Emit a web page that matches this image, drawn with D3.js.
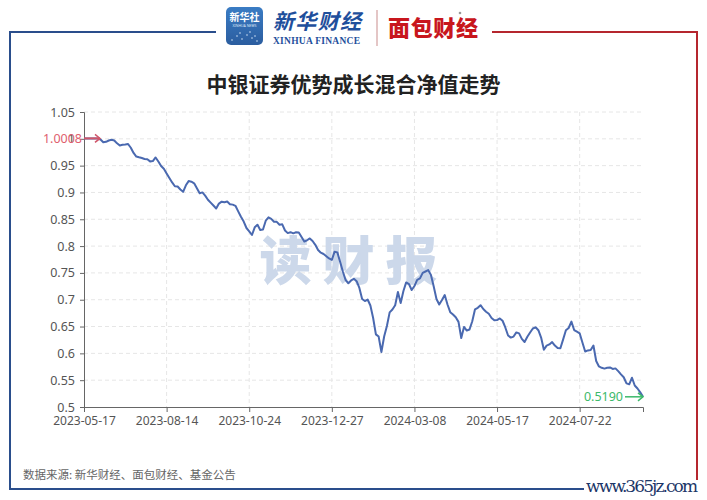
<!DOCTYPE html>
<html><head><meta charset="utf-8">
<script src="https://cdn.jsdelivr.net/npm/d3@7"></script>
<style>
html,body{margin:0;padding:0;background:#fff;}
svg{display:block;}
</style></head>
<body>
<svg id="chart" width="707" height="500"></svg>
<script>
const chartTitle = "中银证券优势成长混合净值走势";
const sourceText = "数据来源: 新华财经、面包财经、基金公告";
const xTickLabels = ["2023-05-17","2023-08-14","2023-10-24","2023-12-27","2024-03-08","2024-05-17","2024-07-22"];
const xTickIndex = [0,30,60,90,120,150,180];
const yTicks = [0.5,0.55,0.6,0.65,0.7,0.75,0.8,0.85,0.9,0.95,1.0,1.05];
const startLabel = "1.0008";
const endLabel = "0.5190";
const navValues = [
1.0008,1.0008,1.0008,1.0008,1.0008,1.0004,0.9987,0.9935,0.9944,0.9969,
0.9984,0.9969,0.9916,0.9875,0.9888,0.9894,0.9903,0.9833,0.9736,0.9670,
0.9655,0.9642,0.9624,0.9618,0.9579,0.9586,0.9652,0.9577,0.9493,0.9441,
0.9353,0.9269,0.9187,0.9115,0.9111,0.9055,0.9012,0.9133,0.9212,0.9201,
0.9171,0.9079,0.8986,0.9001,0.8941,0.8865,0.8811,0.8757,0.8701,0.8792,
0.8828,0.8818,0.8831,0.8781,0.8773,0.8751,0.8647,0.8548,0.8457,0.8337,
0.8276,0.8207,0.8350,0.8397,0.8300,0.8309,0.8473,0.8536,0.8508,0.8454,
0.8452,0.8399,0.8406,0.8291,0.8242,0.8259,0.8238,0.8257,0.8253,0.8169,
0.8086,0.8108,0.8143,0.8095,0.8024,0.7927,0.7877,0.7853,0.7812,0.7769,
0.7743,0.7896,0.7883,0.7708,0.7527,0.7368,0.7307,0.7359,0.7390,0.7345,
0.7219,0.7013,0.6976,0.7004,0.6892,0.6659,0.6354,0.6313,0.6026,0.6315,
0.6510,0.6764,0.6818,0.6898,0.7144,0.6939,0.7163,0.7323,0.7293,0.7181,
0.7256,0.7371,0.7398,0.7500,0.7526,0.7552,0.7461,0.7247,0.7014,0.6911,
0.6995,0.7088,0.6911,0.6768,0.6725,0.6673,0.6587,0.6287,0.6492,0.6426,
0.6445,0.6599,0.6822,0.6850,0.6898,0.6827,0.6777,0.6738,0.6660,0.6617,
0.6621,0.6651,0.6608,0.6483,0.6333,0.6294,0.6313,0.6391,0.6373,0.6270,
0.6212,0.6311,0.6389,0.6464,0.6486,0.6432,0.6294,0.6067,0.6145,0.6167,
0.6210,0.6145,0.6100,0.6094,0.6260,0.6430,0.6473,0.6592,0.6435,0.6404,
0.6374,0.6201,0.6035,0.6055,0.6063,0.6147,0.5858,0.5756,0.5731,0.5716,
0.5731,0.5737,0.5709,0.5720,0.5668,0.5608,0.5554,0.5440,0.5423,0.5546,
0.5401,0.5345,0.5274,0.5190
];

const svg = d3.select("#chart");
const cjk = "'Noto Sans CJK SC','Noto Sans',sans-serif";
const num = "'Noto Sans','Open Sans',sans-serif";

const plot = {left:84, right:643, top:112, bottom:407};
const x = d3.scaleLinear().domain([0, navValues.length-1]).range([plot.left, plot.right]);
const y = d3.scaleLinear().domain([0.5, 1.05]).range([plot.bottom, plot.top]);

// ---------- frame ----------
const blue = "#2a4e8c", red = "#b5262e";
svg.append("path").attr("d","M216,32 H10 V489 H584").attr("fill","none").attr("stroke",blue).attr("stroke-width",2);
svg.append("path").attr("d","M492,32 H697 V480").attr("fill","none").attr("stroke",red).attr("stroke-width",2);
svg.append("text").attr("x",586).attr("y",492).attr("font-family","'DejaVu Serif','Liberation Serif',serif")
  .attr("font-size",17).attr("fill","#1c3668").attr("textLength",112).text("www.365jz.com");

// ---------- logos ----------
const defs = svg.append("defs");
const lg = defs.append("linearGradient").attr("id","lg").attr("x1",0).attr("y1",0).attr("x2",0).attr("y2",1);
lg.append("stop").attr("offset","0%").attr("stop-color","#3a7cc4");
lg.append("stop").attr("offset","100%").attr("stop-color","#2b5d9f");
svg.append("rect").attr("x",226).attr("y",7).attr("width",37).attr("height",38).attr("rx",5).attr("fill","url(#lg)");
svg.append("text").attr("x",244.5).attr("y",21).attr("text-anchor","middle").attr("font-family",cjk)
  .attr("font-size",10).attr("font-weight","bold").attr("fill","#fff").text("新华社");
svg.append("text").attr("x",244.5).attr("y",27).attr("text-anchor","middle").attr("font-family",num)
  .attr("font-size",3.5).attr("fill","#dfe9f7").text("XINHUA NEWS");
[[232,40],[237,36],[242,39],[247,35],[252,38],[257,41],[240,33],[250,32],[255,36]].forEach(p=>{
  svg.append("circle").attr("cx",p[0]).attr("cy",p[1]).attr("r",0.8).attr("fill","#cfe2f6");
});
svg.append("text").attr("x",273).attr("y",29).attr("font-family",cjk).attr("font-size",21)
  .attr("font-weight","bold").attr("font-style","italic").attr("fill","#1f4f9c").attr("textLength",88).text("新华财经");
svg.append("text").attr("x",273).attr("y",44).attr("font-family","'Liberation Serif',serif").attr("font-size",9.5)
  .attr("font-weight","bold").attr("fill","#1f4f9c").attr("textLength",87).text("XINHUA FINANCE");
svg.append("line").attr("x1",377).attr("x2",377).attr("y1",10).attr("y2",46).attr("stroke","#c98d8d").attr("stroke-width",1);
svg.append("text").attr("x",388).attr("y",36).attr("font-family",cjk).attr("font-size",22)
  .attr("font-weight","900").attr("fill","#c8161d").attr("textLength",90).text("面包财经");
svg.append("circle").attr("cx",460).attr("cy",13).attr("r",1.3).attr("fill","#999");

// ---------- title ----------
svg.append("text").attr("x",353.5).attr("y",92).attr("text-anchor","middle").attr("font-family",cjk)
  .attr("font-size",21).attr("font-weight","bold").attr("fill","#222").text(chartTitle);

// ---------- grid ----------
svg.append("g").selectAll("line").data(yTicks.slice(1)).join("line")
  .attr("x1",plot.left).attr("x2",plot.right).attr("y1",d=>y(d)).attr("y2",d=>y(d))
  .attr("stroke","#e6e6e6").attr("stroke-dasharray","4,3");
svg.append("g").selectAll("line").data(xTickIndex.slice(1)).join("line")
  .attr("x1",d=>x(d)).attr("x2",d=>x(d)).attr("y1",plot.top).attr("y2",plot.bottom)
  .attr("stroke","#e6e6e6").attr("stroke-dasharray","4,3");

// ---------- watermark ----------
svg.append("text").attr("x",354).attr("y",280).attr("text-anchor","middle").attr("font-family",cjk)
  .attr("font-size",52).attr("font-weight","900").attr("fill","#ccd8ea").attr("letter-spacing",11).text("读财报");

// ---------- axes ----------
const yAxis = d3.axisLeft(y).tickValues(yTicks).tickSize(4).tickPadding(5).tickFormat(d=>String(+d.toFixed(2)));
const gy = svg.append("g").attr("transform",`translate(${plot.left},0)`).call(yAxis);
gy.select(".domain").attr("stroke","#666");
gy.selectAll(".tick line").attr("stroke","#666");
gy.selectAll("text").attr("fill","#555").attr("font-family",num).attr("font-size",12.5);

const xAxis = d3.axisBottom(x).tickValues(xTickIndex).tickSize(5).tickPadding(4)
  .tickFormat((d,i)=>xTickLabels[i]);
const gx = svg.append("g").attr("transform",`translate(0,${plot.bottom})`).call(xAxis);
gx.select(".domain").attr("stroke","#666");
gx.selectAll(".tick line").attr("stroke","#666");
gx.selectAll("text").attr("fill","#555").attr("font-family",num).attr("font-size",12);

// ---------- line ----------
const line = d3.line().x((d,i)=>x(i)).y(d=>y(d)).curve(d3.curveLinear);
svg.append("path").datum(navValues).attr("d",line).attr("fill","none")
  .attr("stroke","#4a69b0").attr("stroke-width",2).attr("stroke-linejoin","round");

// ---------- start / end markers ----------
const v0 = navValues[0], vN = navValues[navValues.length-1];
const sx = x(0), sy = y(v0);
svg.append("line").attr("x1",sx).attr("x2",sx+16).attr("y1",sy).attr("y2",sy).attr("stroke","#d0566a").attr("stroke-width",2);
svg.append("path").attr("d",`M${sx+11},${sy-4} L${sx+16},${sy} L${sx+11},${sy+4}`).attr("fill","none").attr("stroke","#d0566a").attr("stroke-width",1.5);
svg.append("text").attr("x",sx-2).attr("y",sy+4.5).attr("text-anchor","end").attr("font-family",num)
  .attr("font-size",12.5).attr("fill","#e0606e").text(startLabel);

const ex = x(navValues.length-1), ey = y(vN);
svg.append("line").attr("x1",ex-18).attr("x2",ex).attr("y1",ey).attr("y2",ey).attr("stroke","#3cb96a").attr("stroke-width",1.5);
svg.append("path").attr("d",`M${ex-5},${ey-4} L${ex},${ey} L${ex-5},${ey+4}`).attr("fill","none").attr("stroke","#3cb96a").attr("stroke-width",1.5);
svg.append("text").attr("x",ex-20).attr("y",ey+4.5).attr("text-anchor","end").attr("font-family",num)
  .attr("font-size",12.5).attr("fill","#3cb96a").text(endLabel);

// ---------- source ----------
svg.append("text").attr("x",23).attr("y",479).attr("font-family",cjk).attr("font-size",11.5)
  .attr("fill","#666").text(sourceText);
</script>
</body></html>
